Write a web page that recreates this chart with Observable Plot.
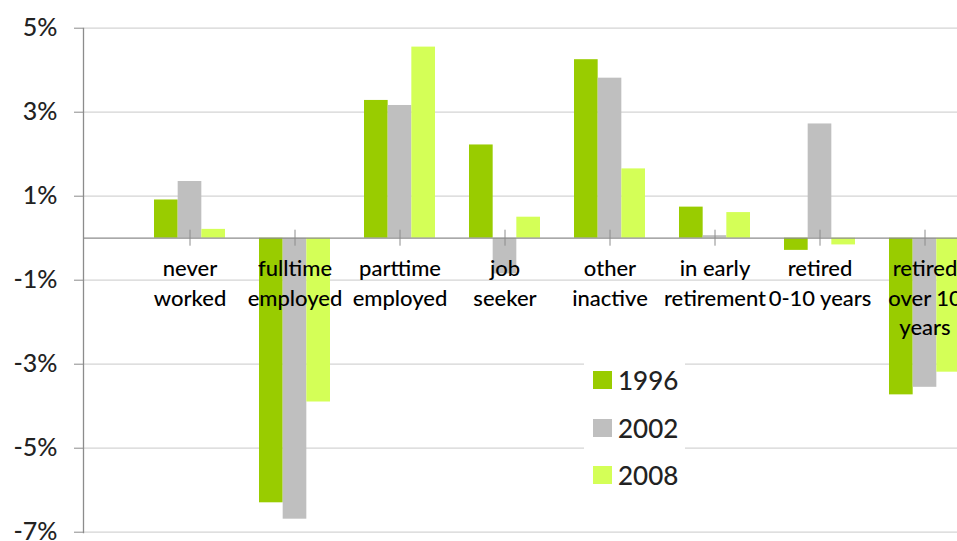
<!DOCTYPE html>
<html>
<head>
<meta charset="utf-8">
<script src="https://cdn.jsdelivr.net/npm/d3@7"></script>
<script src="https://cdn.jsdelivr.net/npm/@observablehq/plot@0.6"></script>
<style>
  html, body { margin: 0; padding: 0; background: #fff; overflow: hidden; }
  #wrap { position: relative; width: 957px; height: 541px; }
  #legend { position: absolute; left: 584px; top: 352px; width: 101px; height: 150px; background: #fff;
    font-family: Lato, "Open Sans", sans-serif; font-size: 26px; font-weight: 500; color: #222; }
  .item { position: absolute; left: 9px; display: flex; align-items: center; height: 30px; }
  .sw { width: 19px; height: 18px; margin-right: 6px; }
</style>
</head>
<body>
<div id="wrap"><div id="chart"></div><div id="legend"></div></div>
<script>
const categories = ["never\nworked", "fulltime\nemployed", "parttime\nemployed", "job\nseeker",
  "other\ninactive", "in early\nretirement", "retired\n0-10 years", "retired\nover 10\nyears"];
const years = ["1996", "2002", "2008"];
const v1996 = [0.91, -6.30, 3.28, 2.22, 4.25, 0.74, -0.29, -3.73];
const v2002 = [1.35, -6.69, 3.16, -0.85, 3.81, 0.06, 2.72, -3.55];
const v2008 = [0.21, -3.90, 4.55, 0.50, 1.65, 0.61, -0.16, -3.19];
const yTicks = [5, 3, 1, -1, -3, -5, -7];
const colors = ["#99CC00", "#BFBFBF", "#D4FF57"];

const series = [v1996, v2002, v2008];
const rows = years.map((yr, j) => categories.map((c, i) => ({cat: c, year: yr, value: series[j][i]})));

const step = 105, groupW = 71, barW = groupW / 3, pad = (step - groupW) / 2;
const font = "Lato, 'Open Sans', sans-serif";

const bars = years.map((yr, j) => Plot.barY(rows[j], {
  x: "cat", y: "value", fill: colors[j],
  insetLeft: pad + barW * j, insetRight: step - pad - barW * (j + 1)
}));

const chart = Plot.plot({
  width: 957, height: 541,
  marginLeft: 83, marginRight: 0, marginTop: 28, marginBottom: 9,
  style: {fontFamily: font, background: "#fff"},
  x: {type: "band", domain: categories, range: [136.8, 136.8 + step * categories.length], padding: 0, axis: null},
  y: {domain: [-7, 5], range: [531.7, 27.7], axis: null},
  marks: [
    Plot.ruleY(yTicks, {stroke: "#D4D4D4", strokeWidth: 1.3}),
    ...bars,
    Plot.ruleY([0], {stroke: "#8C8C8C", strokeWidth: 1.3}),
    Plot.ruleX(categories, {x: d => d, y1: 0, y2: 0, insetTop: -8, insetBottom: -8, stroke: "#8C8C8C"}),
    Plot.frame({anchor: "left", stroke: "#8C8C8C", strokeWidth: 1.3}),
    Plot.axisY({ticks: yTicks, tickFormat: d => d + "%", tickSize: 9, tickPadding: 17,
      fontSize: 25, fontWeight: 500, stroke: "#8C8C8C", color: "#222", label: null}),
    Plot.text(categories, {x: d => d, y: 0, text: d => d, dy: 17, lineAnchor: "top",
      lineHeight: 1.34, fontSize: 22, fontWeight: 500, fill: "#000"})
  ]
});
document.getElementById("chart").appendChild(chart);

const legend = document.getElementById("legend");
years.forEach((yr, j) => {
  const it = document.createElement("div");
  it.className = "item";
  it.style.top = (13 + 47.5 * j) + "px";
  it.innerHTML = `<span class="sw" style="background:${colors[j]}"></span><span>${yr}</span>`;
  legend.appendChild(it);
});
</script>
</body>
</html>
